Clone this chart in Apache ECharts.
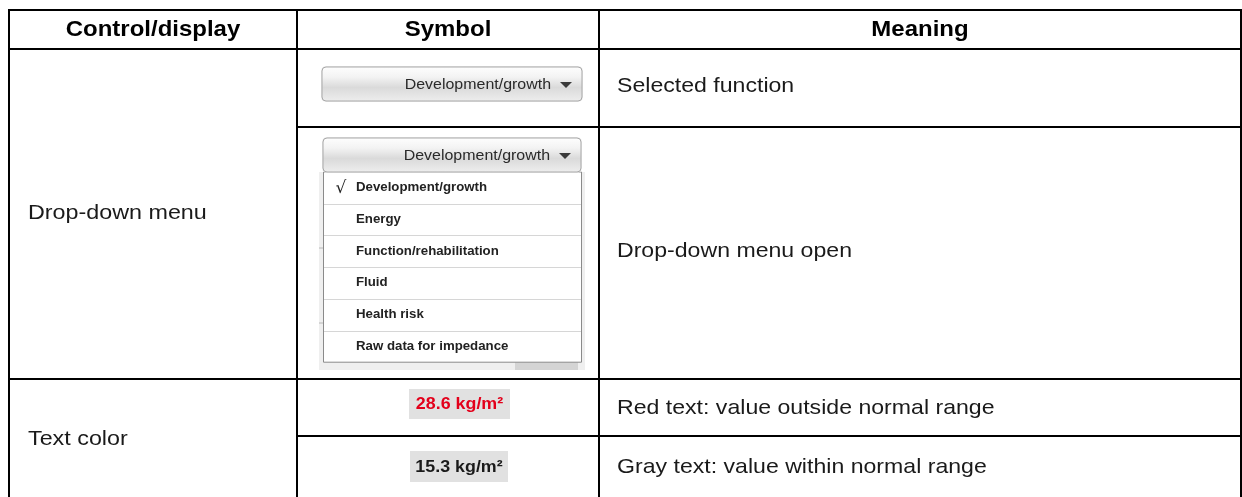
<!DOCTYPE html>
<html>
<head>
<meta charset="utf-8">
<script src="https://cdn.jsdelivr.net/npm/echarts@6/dist/echarts.min.js"></script>
<style>html,body{margin:0;padding:0;background:#fff;}#c{width:1242px;height:497px;}</style>
</head>
<body>
<div id="c"></div>
<script>
// ---- content ----
const headers = ['Control/display', 'Symbol', 'Meaning'];
const controls = ['Drop-down menu', 'Text color'];
const meanings = ['Selected function', 'Drop-down menu open', 'Red text: value outside normal range', 'Gray text: value within normal range'];
const selectedFunction = 'Development/growth';
const menuItems = ['Development/growth', 'Energy', 'Function/rehabilitation', 'Fluid', 'Health risk', 'Raw data for impedance'];
const checkedIndex = 0;
const valueLabels = ['28.6 kg/m²', '15.3 kg/m²'];

// ---- layout ----
const colX = [9, 297, 599, 1241];
const rowY = [10, 49, 127, 379, 436, 497];
const FONT = '"Liberation Sans", Arial, Helvetica, sans-serif';

const chart = echarts.init(document.getElementById('c'), null, {renderer: 'canvas'});
const els = [];

function line(x1, y1, x2, y2) {
  els.push({type: 'line', z: 10, shape: {x1, y1, x2, y2}, style: {stroke: '#000', lineWidth: 2}});
}
function text(t, x, y, opt, sx) {
  els.push({type: 'text', z: 20, x, y, scaleX: sx || 1, style: Object.assign({
    text: t, x: 0, y: 0, fontFamily: FONT, fontSize: 21, fill: '#1a1a1a', align: 'left', verticalAlign: 'middle'
  }, opt || {})});
}
function button(x, y, w, h, label) {
  els.push({type: 'rect', z: 5, shape: {x: x - 1, y: y - 1, width: w + 2, height: h + 2, r: 5}, style: {fill: '#ececec'}});
  els.push({type: 'rect', z: 6, shape: {x, y, width: w, height: h, r: 4}, style: {
    fill: new echarts.graphic.LinearGradient(0, 0, 0, 1, [
      {offset: 0, color: '#fefefe'}, {offset: 0.3, color: '#f3f3f3'},
      {offset: 0.6, color: '#dadada'}, {offset: 1, color: '#eeeeee'}]),
    stroke: '#a9a9a9', lineWidth: 1}});
  text(label, x + w - 31, y + h / 2 + 0.5, {fontSize: 14.5, fill: '#2a2a2a', align: 'right'}, 1.1);
  const ax = x + w - 16, ay = y + h / 2 - 2;
  els.push({type: 'polygon', z: 7, shape: {points: [[ax - 6, ay], [ax + 6, ay], [ax, ay + 6]]}, style: {fill: '#3a3a3a'}});
}

// headers
headers.forEach((h, i) => text(h, (colX[i] + colX[i + 1]) / 2, (rowY[0] + rowY[1]) / 2, {fontWeight: 'bold', fontSize: 22, fill: '#000', align: 'center'}, 1.09));

// column 1
text(controls[0], 28, 213, null, 1.11);
text(controls[1], 28, 439, null, 1.11);

// meanings
const meaningY = [86, 251, 408, 467];
meanings.forEach((m, i) => text(m, 617, meaningY[i], null, 1.1));

// Symbol: selected dropdown
button(322, 67, 260, 34, selectedFunction);

// Symbol: open dropdown
els.push({type: 'rect', z: 1, shape: {x: 319, y: 172, width: 266, height: 198}, style: {fill: '#efefef'}});
els.push({type: 'rect', z: 2, shape: {x: 515, y: 362, width: 63, height: 8}, style: {fill: '#d4d4d4'}});
[248, 323].forEach(yy => els.push({type: 'line', z: 2, shape: {x1: 319, y1: yy, x2: 323, y2: yy}, style: {stroke: '#b8b8b8', lineWidth: 1}}));
button(323, 138, 258, 34, selectedFunction);
const menuTop = 172, itemH = 31.7;
els.push({type: 'rect', z: 3, shape: {x: 323.5, y: menuTop, width: 258, height: itemH * menuItems.length}, style: {fill: '#fff', stroke: '#8a8a8a', lineWidth: 1}});
menuItems.forEach((m, i) => {
  const cy = menuTop + itemH * (i + 0.5);
  if (i > 0) els.push({type: 'line', z: 4, shape: {x1: 324, y1: Math.round(menuTop + itemH * i) + 0.5, x2: 581, y2: Math.round(menuTop + itemH * i) + 0.5}, style: {stroke: '#d6d6d6', lineWidth: 1}});
  text(m, 356, cy, {fontSize: 12.5, fontWeight: 'bold', fill: '#222'}, 1.06);
  if (i === checkedIndex) text('\u221A', 341, cy + 1, {fontSize: 17, fill: '#222', align: 'center', fontFamily: '"DejaVu Sans", sans-serif'});
});

// Symbol: value labels
const boxes = [[409, 389, 101, 30, '#e3001b'], [410, 451, 98, 31, '#1a1a1a']];
valueLabels.forEach((v, i) => {
  const [bx, by, bw, bh, col] = boxes[i];
  els.push({type: 'rect', z: 5, shape: {x: bx, y: by, width: bw, height: bh}, style: {fill: '#e1e1e1'}});
  text(v, bx + bw / 2, by + bh / 2 + 0.5, {fontSize: 17, fontWeight: 'bold', fill: col, align: 'center'}, 1.05);
});

// grid lines
line(colX[0] - 1, rowY[0], colX[3] + 1, rowY[0]);
line(colX[0], rowY[1], colX[3], rowY[1]);
line(colX[1], rowY[2], colX[3], rowY[2]);
line(colX[0], rowY[3], colX[3], rowY[3]);
line(colX[1], rowY[4], colX[3], rowY[4]);
colX.forEach(x => line(x, rowY[0], x, rowY[5] + 2));

chart.setOption({backgroundColor: '#fff', animation: false, graphic: {elements: els}});
</script>
</body>
</html>
